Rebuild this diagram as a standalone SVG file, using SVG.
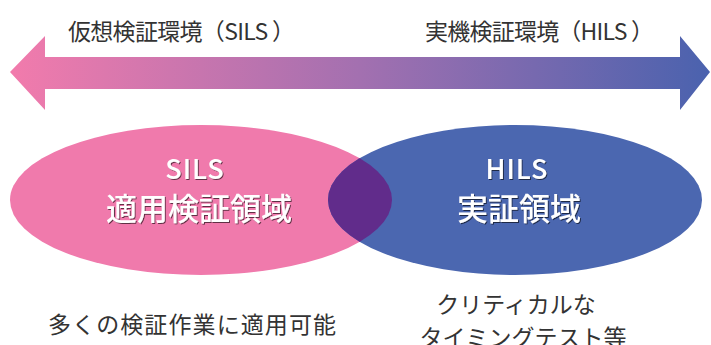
<svg xmlns="http://www.w3.org/2000/svg" width="711" height="345" viewBox="0 0 711 345">
<style>
.lbl{font-family:"Noto Sans CJK JP","Noto Sans",sans-serif;fill:#333333;font-size:23px}
.in{font-family:"Noto Sans CJK JP","Noto Sans",sans-serif;fill:#ffffff;text-anchor:middle;font-weight:500;filter:url(#sh)}
</style>
<defs>
<linearGradient id="ag" x1="10" y1="0" x2="710" y2="0" gradientUnits="userSpaceOnUse">
<stop offset="0" stop-color="#f27bac"/>
<stop offset="0.5" stop-color="#a370b0"/>
<stop offset="1" stop-color="#4a62ae"/>
</linearGradient>
<clipPath id="cb"><ellipse cx="515" cy="200" rx="187" ry="75"/></clipPath>
<filter id="sh" x="-10%" y="-10%" width="120%" height="130%">
<feDropShadow dx="1" dy="1" stdDeviation="0.6" flood-color="#000" flood-opacity="0.6"/>
</filter>
</defs>
<g id="connectors">
<polygon points="10,72 45,36 45,57 680,57 680,36 710,72 680,110 680,89 45,89 45,110" fill="url(#ag)"/>
</g>
<g id="label-sils-env"><text class="lbl" x="68" y="40" textLength="227">仮想検証環境（SILS ）</text></g>
<g id="label-hils-env"><text class="lbl" x="425" y="40" textLength="229">実機検証環境（HILS ）</text></g>
<g id="node-sils">
<ellipse cx="201" cy="200" rx="191" ry="75" fill="#f07aac"/>
</g>
<g id="node-hils">
<ellipse cx="515" cy="200" rx="187" ry="75" fill="#4b67b0"/>
</g>
<g id="node-overlap">
<ellipse cx="201" cy="200" rx="191" ry="75" fill="#612c8b" clip-path="url(#cb)"/>
</g>
<g id="text-sils">
<text class="in" x="195" y="179" font-size="27" letter-spacing="1">SILS</text>
<text class="in" x="199" y="220" font-size="31">適用検証領域</text>
</g>
<g id="text-hils">
<text class="in" x="517" y="179" font-size="27" letter-spacing="1">HILS</text>
<text class="in" x="519" y="220" font-size="31">実証領域</text>
</g>
<g id="note-sils"><text class="lbl" x="48" y="333" textLength="288">多くの検証作業に適用可能</text></g>
<g id="note-hils">
<text class="lbl" x="516" y="313" text-anchor="middle">クリティカルな</text>
<text class="lbl" x="523" y="346" text-anchor="middle">タイミングテスト等</text>
</g>
</svg>
